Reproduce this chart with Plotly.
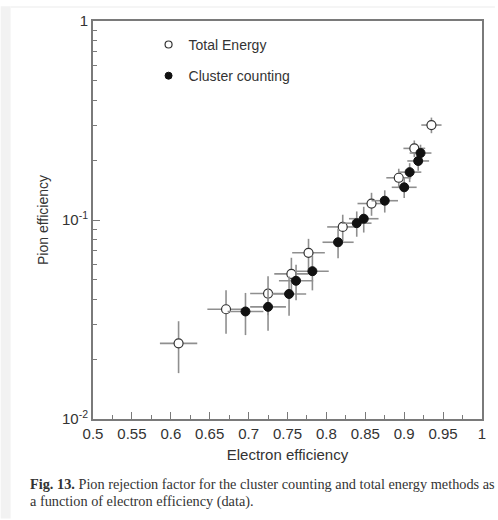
import plotly.graph_objects as go

# Total energy method: electron efficiency vs pion efficiency with errors
te_x = [0.610, 0.671, 0.725, 0.755, 0.777, 0.821, 0.858, 0.893, 0.913, 0.935]
te_y = [0.0240, 0.0356, 0.0427, 0.0536, 0.0684, 0.0923, 0.121, 0.163, 0.229, 0.300]
te_xerr = [0.024, 0.024, 0.023, 0.022, 0.021, 0.020, 0.018, 0.016, 0.014, 0.013]
te_yerr = [0.0070, 0.0088, 0.0095, 0.011, 0.012, 0.014, 0.016, 0.018, 0.022, 0.027]

# Cluster counting method
cc_x = [0.696, 0.725, 0.752, 0.761, 0.782, 0.815, 0.839, 0.848, 0.875, 0.900, 0.907, 0.918, 0.921]
cc_y = [0.0347, 0.0366, 0.0425, 0.0495, 0.0553, 0.0773, 0.0964, 0.1015, 0.125, 0.146, 0.174, 0.198, 0.217]
cc_xerr = [0.023, 0.023, 0.022, 0.022, 0.021, 0.020, 0.019, 0.019, 0.017, 0.016, 0.015, 0.014, 0.014]
cc_yerr = [0.0083, 0.0088, 0.0095, 0.010, 0.011, 0.013, 0.014, 0.015, 0.016, 0.017, 0.019, 0.021, 0.022]

x_ticks = [0.5, 0.55, 0.6, 0.65, 0.7, 0.75, 0.8, 0.85, 0.9, 0.95, 1.0]
x_labels = ["0.5", "0.55", "0.6", "0.65", "0.7", "0.75", "0.8", "0.85", "0.9", "0.95", "1"]
y_ticks = [0.01, 0.1, 1]
y_labels = ["10<sup>-2</sup>", "10<sup>-1</sup>", "1"]

caption_1 = "<b>Fig. 13.</b> Pion rejection factor for the cluster counting and total energy methods as"
caption_2 = "a function of electron efficiency (data)."

ERR = "#8f8f8f"
AX = "#7a7a7a"
TXT = "#333333"

fig = go.Figure()
fig.add_trace(go.Scatter(
    x=te_x, y=te_y, mode="markers", name="Total Energy", showlegend=False,
    error_x=dict(type="data", array=te_xerr, color=ERR, thickness=1.6, width=0),
    error_y=dict(type="data", array=te_yerr, color=ERR, thickness=1.6, width=0),
    marker=dict(symbol="circle", size=9, color="white", line=dict(color="#333", width=1.2)),
))
fig.add_trace(go.Scatter(
    x=cc_x, y=cc_y, mode="markers", name="Cluster counting", showlegend=False,
    error_x=dict(type="data", array=cc_xerr, color=ERR, thickness=1.6, width=0),
    error_y=dict(type="data", array=cc_yerr, color=ERR, thickness=1.6, width=0),
    marker=dict(symbol="circle", size=9, color="#111", line=dict(color="#111", width=1)),
))
# legend entries with smaller key symbols
fig.add_trace(go.Scatter(
    x=[None], y=[None], mode="markers", name="Total Energy", legendgroup="te",
    marker=dict(symbol="circle", size=7, color="white", line=dict(color="#333", width=1.2)),
))
fig.add_trace(go.Scatter(
    x=[None], y=[None], mode="markers", name="Cluster counting", legendgroup="cc",
    marker=dict(symbol="circle", size=7, color="#111", line=dict(color="#111", width=1)),
))

W, H = 498, 520
L, R, T, B = 93, 485, 15, 419


def px_x(p):
    return (p - L) / (R - L)


def px_y(p):
    return (B - p) / (B - T)


fig.update_layout(
    width=W, height=H,
    margin=dict(l=L, r=W - R, t=T, b=H - B),
    paper_bgcolor="white", plot_bgcolor="white",
    font=dict(family="Liberation Sans, Arial, sans-serif", size=14, color=TXT),
    showlegend=True,
    legend=dict(
        x=px_x(149), y=px_y(23), xanchor="left", yanchor="top",
        bgcolor="rgba(0,0,0,0)", font=dict(size=14, color=TXT),
        traceorder="grouped", tracegroupgap=10, itemsizing="trace",
    ),
    shapes=[
        dict(type="rect", xref="paper", yref="paper",
             x0=px_x(0), x1=px_x(10), y0=px_y(H), y1=px_y(0),
             fillcolor="#f2f2f2", line=dict(width=0), layer="below"),
        dict(type="rect", xref="paper", yref="paper",
             x0=px_x(10), x1=px_x(W), y0=px_y(1.5), y1=px_y(0),
             fillcolor="#f2f2f2", line=dict(width=0), layer="below"),
    ],
)

fig.update_xaxes(
    range=[0.5, 1.0], tickvals=x_ticks, ticktext=x_labels,
    ticks="inside", ticklen=7, tickwidth=1.2, tickcolor=AX,
    minor=dict(dtick=0.025, tick0=0.5, ticks="inside", ticklen=4, tickcolor=AX, tickwidth=1.2),
    showline=True, linecolor=AX, linewidth=2, mirror=True,
    showgrid=False, zeroline=False,
    tickfont=dict(size=15, color=TXT),
    title=dict(text="Electron efficiency", font=dict(size=15, color=TXT), standoff=8),
)
fig.update_yaxes(
    type="log", range=[-2, 0], tickvals=y_ticks, ticktext=y_labels,
    ticks="inside", ticklen=7, tickwidth=1.2, tickcolor=AX,
    minor=dict(dtick="D1", ticks="inside", ticklen=4, tickcolor=AX, tickwidth=1.2),
    showline=True, linecolor=AX, linewidth=2, mirror=True,
    showgrid=False, zeroline=False,
    tickfont=dict(size=15, color=TXT),
    title=dict(text="Pion efficiency", font=dict(size=14, color=TXT), standoff=10),
)

fig.add_annotation(
    text=caption_1, xref="paper", yref="paper", x=px_x(28), y=px_y(485),
    xanchor="left", yanchor="middle", showarrow=False,
    font=dict(family="Liberation Serif, Times New Roman, serif", size=14.3, color="#333"),
)
fig.add_annotation(
    text=caption_2, xref="paper", yref="paper", x=px_x(28), y=px_y(503),
    xanchor="left", yanchor="middle", showarrow=False,
    font=dict(family="Liberation Serif, Times New Roman, serif", size=14.3, color="#333"),
)

fig.write_html("out.html")
